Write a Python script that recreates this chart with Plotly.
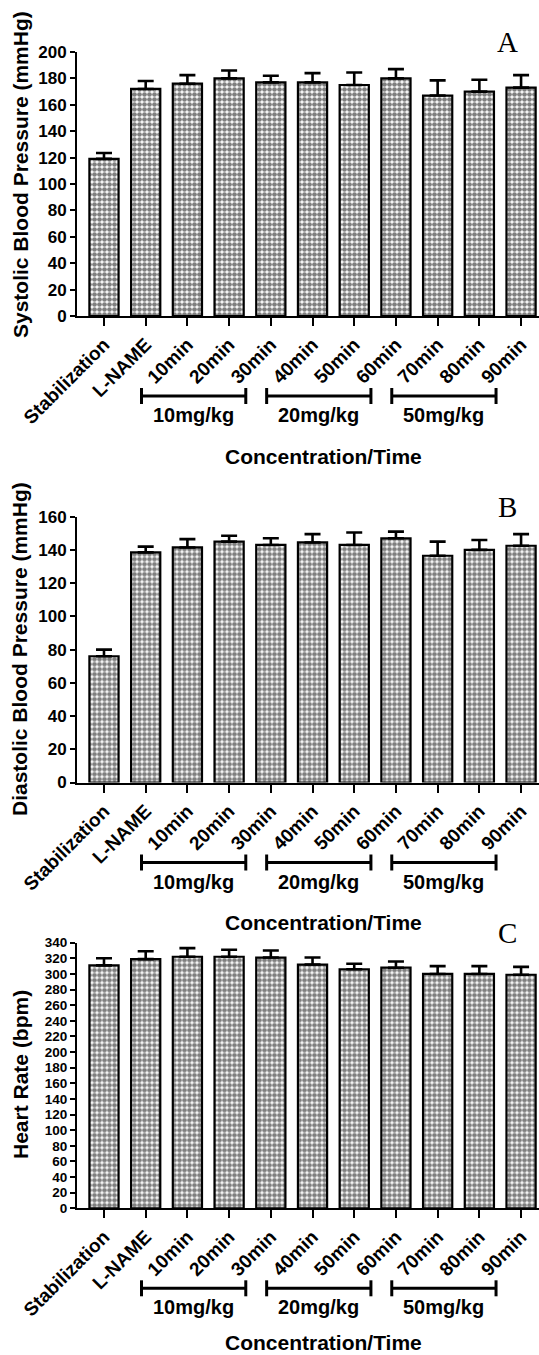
import plotly.graph_objects as go

# Time points along the protocol
categories = ["Stabilization", "L-NAME", "10min", "20min", "30min", "40min",
              "50min", "60min", "70min", "80min", "90min"]

# Systolic blood pressure (mmHg), mean and SEM
sbp = [119, 172, 176, 180, 177, 177, 175, 180, 167, 170, 173]
sbp_sem = [4.5, 6, 6.5, 6, 5, 7, 9.5, 7, 11.5, 9, 9.5]

# Diastolic blood pressure (mmHg), mean and SEM
dbp = [76, 138.5, 141.5, 145, 143, 144.5, 143, 147, 136.5, 140, 142.5]
dbp_sem = [4, 3.5, 5, 3.5, 4, 5, 7.5, 4, 8.5, 6, 7]

# Heart rate (bpm), mean and SEM
hr = [311, 319, 322, 322, 321, 312, 306, 308, 300, 300, 299]
hr_sem = [9, 10, 11, 9, 9, 9, 7, 8, 10, 10, 10]

# Dose groups and the time points they cover
doses = ["10mg/kg", "20mg/kg", "50mg/kg"]
dose_first = ["10min", "40min", "70min"]
dose_last = ["30min", "60min", "90min"]

W, H = 539, 1355
PLOT_LEFT = 77

panels = [
    dict(values=sbp, sem=sbp_sem, ymax=200, letter="A", ytick_size=17,
         ytitle="Systolic Blood Pressure (mmHg)", top=52, base=316, title_y=175),
    dict(values=dbp, sem=dbp_sem, ymax=160, letter="B", ytick_size=17,
         ytitle="Diastolic Blood Pressure (mmHg)", top=516.7, base=782.5, title_y=649),
    dict(values=hr, sem=hr_sem, ymax=340, letter="C", ytick_size=13.5,
         ytitle="Heart Rate (bpm)", top=942.7, base=1208.3, title_y=1075),
]

BOLD = dict(family="Liberation Sans, Arial, sans-serif", color="black", weight="bold")


def py(pixel_y):
    return 1 - pixel_y / H


def px(pixel_x):
    return pixel_x / W


fig = go.Figure()
annotations = []
shapes = []
x_range = [-0.647, 10.43]

for i, p in enumerate(panels):
    n = "" if i == 0 else str(i + 1)
    xa, ya = "x" + n, "y" + n
    fig.add_trace(go.Bar(
        x=categories, y=p["values"], xaxis=xa, yaxis=ya, width=0.7,
        marker=dict(color="white",
                    line=dict(color="black", width=2.2),
                    pattern=dict(shape=".", fgcolor="black", bgcolor="white",
                                 size=5, solidity=0.7)),
        error_y=dict(type="data", symmetric=False, array=p["sem"],
                     arrayminus=[0] * len(p["sem"]), color="black",
                     thickness=2.6, width=8),
        showlegend=False,
    ))
    domain_y = [py(p["base"]), py(p["top"])]
    fig.layout["xaxis" + n] = dict(
        domain=[px(PLOT_LEFT), 1], range=x_range, type="category",
        anchor=ya, showline=True, linecolor="black", linewidth=2,
        ticks="outside", ticklen=8, tickwidth=2, tickcolor="black",
        tickangle=-45, tickfont=dict(size=19, **BOLD), showgrid=False,
        zeroline=False, automargin=False,
    )
    fig.layout["yaxis" + n] = dict(
        domain=domain_y, range=[0, p["ymax"]], anchor=xa,
        tickmode="linear", tick0=0, dtick=20,
        showline=True, linecolor="black", linewidth=2,
        ticks="outside", ticklen=5, tickwidth=2, tickcolor="black",
        tickfont=dict(size=p["ytick_size"], **BOLD), showgrid=False,
        zeroline=False, automargin=False,
    )

    # y-axis title
    annotations.append(dict(
        text=p["ytitle"], textangle=-90, xref="paper", yref="paper",
        x=px(20), y=py(p["title_y"]), xanchor="center", yanchor="middle",
        showarrow=False, font=dict(size=21, **BOLD)))
    # x-axis title
    annotations.append(dict(
        text="Concentration/Time", xref="paper", yref="paper",
        x=px(323), y=py(min(p["base"] + 140, H - 13)),
        xanchor="center", yanchor="middle",
        showarrow=False, font=dict(size=21, **BOLD)))
    # panel letter
    annotations.append(dict(
        text=p["letter"], xref="paper", yref="paper",
        x=px(507), y=py(p["top"] - 10), xanchor="center", yanchor="middle",
        showarrow=False,
        font=dict(family="Liberation Serif, Times New Roman, serif",
                  size=29, color="black")))

    # dose brackets beneath the time labels
    y_line = py(p["base"] + 80)
    for dose, first, last in zip(doses, dose_first, dose_last):
        x0 = categories.index(first) - 1.1
        x1 = categories.index(last) - 0.6
        shapes.append(dict(type="line", xref=xa, yref="paper",
                           x0=x0, x1=x1, y0=y_line, y1=y_line,
                           line=dict(color="black", width=3)))
        for xe in (x0, x1):
            shapes.append(dict(type="line", xref=xa, yref="paper",
                               x0=xe, x1=xe, y0=py(p["base"] + 72),
                               y1=py(p["base"] + 88),
                               line=dict(color="black", width=3)))
        annotations.append(dict(
            text=dose, xref=xa, yref="paper", x=(x0 + x1) / 2,
            y=py(p["base"] + 99), xanchor="center", yanchor="middle",
            showarrow=False, font=dict(size=20, **BOLD)))

fig.update_layout(
    width=W, height=H, margin=dict(l=0, r=0, t=0, b=0, autoexpand=False),
    paper_bgcolor="white", plot_bgcolor="white",
    bargap=0.3, annotations=annotations, shapes=shapes,
)

fig.write_html("out.html")
